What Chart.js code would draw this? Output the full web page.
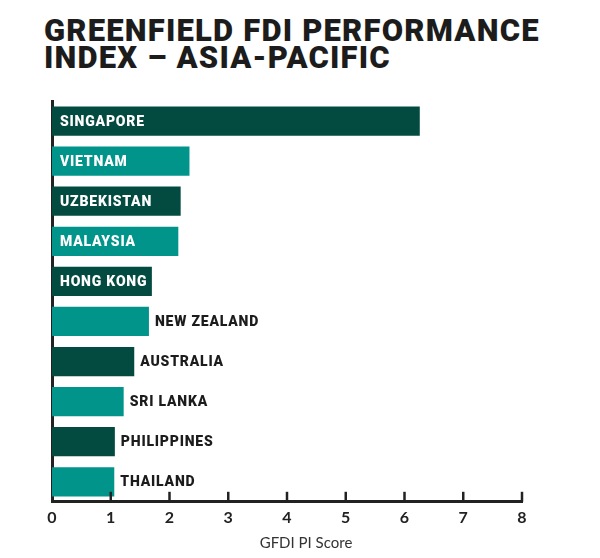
<!DOCTYPE html>
<html>
<head>
<meta charset="utf-8">
<script src="https://cdn.jsdelivr.net/npm/chart.js@4"></script>
<style>
  body { margin: 0; background: #fff; }
  #wrap { position: relative; width: 600px; height: 558px; }
  #title {
    position: absolute; left: 44px; top: 17px;
    font-family: Roboto, "Liberation Sans", sans-serif; font-weight: 900;
    font-size: 31px; line-height: 27px; color: #1c1c1c;
    letter-spacing: 1.2px; white-space: nowrap;
  }
  canvas { position: absolute; left: 0; top: 0; }
</style>
</head>
<body>
<div id="wrap">
  <div id="title">GREENFIELD FDI PERFORMANCE<br>INDEX – ASIA-PACIFIC</div>
  <canvas id="myChart" width="600" height="558"></canvas>
</div>
<script>
var countries = ["SINGAPORE", "VIETNAM", "UZBEKISTAN", "MALAYSIA", "HONG KONG",
                 "NEW ZEALAND", "AUSTRALIA", "SRI LANKA", "PHILIPPINES", "THAILAND"];
var scores = [6.26, 2.34, 2.19, 2.15, 1.70, 1.65, 1.40, 1.22, 1.07, 1.06];
var xTicks = [0, 1, 2, 3, 4, 5, 6, 7, 8];
var axisTitle = "GFDI PI Score";

var dark = "#034a41";
var teal = "#01948b";
var barColors = countries.map(function(c, i){ return i % 2 === 0 ? dark : teal; });

// country names drawn in the bar, or just past its end when it does not fit
var barLabels = {
    id: "barLabels",
    afterDatasetsDraw: function(chart){
        var ctx = chart.ctx;
        var meta = chart.getDatasetMeta(0);
        ctx.save();
        ctx.font = "900 14px Roboto, sans-serif";
        ctx.letterSpacing = "0.8px";
        ctx.textBaseline = "middle";
        meta.data.forEach(function(bar, i){
            var txt = countries[i];
            var w = ctx.measureText(txt).width;
            if (w + 8 <= bar.x - bar.base) {
                ctx.fillStyle = "#fff";
                ctx.fillText(txt, bar.base + 8, bar.y + 1);
            } else {
                ctx.fillStyle = "#1c1c1c";
                ctx.fillText(txt, bar.x + 6, bar.y + 1);
            }
        });
        ctx.restore();
    }
};

// small upward tick marks on the x axis and the axis caption
var axisExtras = {
    id: "axisExtras",
    afterDraw: function(chart){
        var ctx = chart.ctx;
        var xs = chart.scales.x;
        var area = chart.chartArea;
        ctx.save();
        ctx.strokeStyle = "#222";
        ctx.lineWidth = 2.5;
        xTicks.forEach(function(v){
            if (v === 0) return;
            var px = xs.getPixelForValue(v);
            ctx.beginPath();
            ctx.moveTo(px, area.bottom);
            ctx.lineTo(px, area.bottom - 10);
            ctx.stroke();
        });
        ctx.fillStyle = "#333";
        ctx.font = "15px Lato, sans-serif";
        ctx.textAlign = "center";
        ctx.textBaseline = "middle";
        ctx.fillText(axisTitle, 306, 543);
        ctx.restore();
    }
};

var ctx = document.getElementById("myChart");
var chart = new Chart(ctx, {
    type: "bar",
    data: {
        labels: countries,
        datasets: [{
            data: scores,
            backgroundColor: barColors,
            barPercentage: 0.73,
            categoryPercentage: 1
        }]
    },
    options: {
        indexAxis: "y",
        responsive: false,
        animation: false,
        layout: { padding: { left: 44, right: 78, top: 101, bottom: 33 } },
        plugins: { legend: { display: false }, tooltip: { enabled: false } },
        scales: {
            x: {
                min: 0,
                max: 8,
                afterBuildTicks: function(s){ s.ticks = xTicks.map(function(v){ return { value: v }; }); },
                grid: { display: false },
                border: { display: true, color: "#222", width: 3 },
                ticks: {
                    color: "#222",
                    padding: -2,
                    font: { family: "Lato, sans-serif", size: 16, weight: "bold" }
                }
            },
            y: {
                grid: { display: false },
                border: { display: true, color: "#222", width: 3 },
                ticks: { display: false }
            }
        }
    },
    plugins: [barLabels, axisExtras]
});
</script>
</body>
</html>
